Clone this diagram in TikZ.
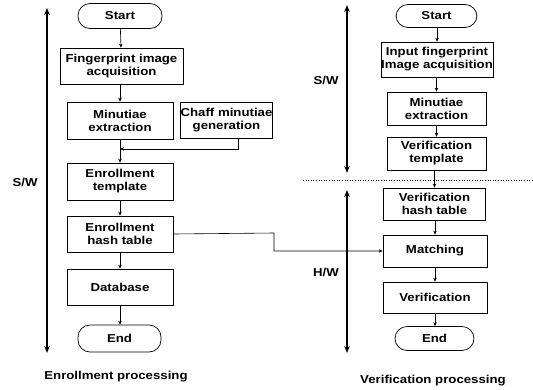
\documentclass[tikz,border=0pt]{standalone}
\usepackage{fontspec}
\setmainfont{Liberation Sans}[FakeStretch=1.15]
\usetikzlibrary{arrows.meta}
\begin{document}
\begin{tikzpicture}[x=1pt,y=-1pt,
  every node/.style={font=\bfseries\fontsize{11.5}{13}\selectfont, inner sep=0pt, align=center},
  proc/.style={draw, line width=0.7pt, minimum width=#1},
  term/.style={draw, line width=0.7pt, rounded corners=12pt},
  flow/.style={line width=0.6pt, -{Stealth[length=4pt,width=3.5pt]}},
  plain/.style={line width=0.6pt},
  bigarr/.style={line width=1.3pt, {Stealth[length=7pt,width=5.5pt]}-{Stealth[length=7pt,width=5.5pt]}},
  lab/.style={font=\bfseries\fontsize{11.5}{13}\selectfont}
]
\useasboundingbox (0,0) rectangle (533,389);
% left column
\node[term, minimum width=84pt, minimum height=25pt] (startL) at (120,16) {Start};
\node[proc=123pt, minimum height=36pt] (fpL) at (121.5,66) {Fingerprint image\\acquisition};
\node[proc=106pt, minimum height=37pt] (minL) at (120,120.5) {Minutiae\\extraction};
\node[proc=83pt, minimum height=36pt] (chaff) at (226.5,120) {Chaff minutiae\\generation};
\node[proc=106pt, minimum height=37pt] (templL) at (120,181.5) {Enrollment\\template};
\node[proc=106pt, minimum height=36pt] (hashL) at (120,234) {Enrollment\\hash table};
\node[proc=106pt, minimum height=36pt] (db) at (120,287) {Database};
\node[term, minimum width=83pt, minimum height=27pt] (endL) at (119.5,338.5) {End};
\coordinate (junc) at (120,149);
\coordinate (bend) at (274,233);

\draw[flow] (startL) -- (fpL);
\draw[flow] (fpL.south -| minL) -- (minL);
\draw[flow] (minL) -- (templL);
\draw[flow] ([xshift=11.5pt]chaff.south) |- (junc);
\draw[flow] (templL) -- (hashL);
\draw[flow] (hashL) -- (db);
\draw[flow] (db) -- (endL.north -| db);

% left side arrow
\coordinate (la1) at (47,8);
\coordinate (la2) at (47,353);
\draw[bigarr] (la1) -- (la2);
\node[lab] (swL) at (25,182) {S/W};
\node[lab] (enr) at (116,377) {Enrollment processing};

% right column
\node[term, minimum width=81pt, minimum height=23pt] (startR) at (436.5,16) {Start};
\node[proc=110pt, minimum height=35pt] (fpR) at (437,59.5) {Input fingerprint\\Image acquisition};
\node[proc=99pt, minimum height=33pt] (minR) at (436.5,108.5) {Minutiae\\extraction};
\node[proc=99pt, minimum height=33pt] (templR) at (436.5,153.5) {Verification\\template};
\node[proc=102pt, minimum height=32pt] (hashR) at (434.5,204) {Verification\\hash table};
\node[proc=104pt, minimum height=32pt] (match) at (435,251) {Matching};
\node[proc=104pt, minimum height=31pt] (verif) at (435,297.5) {Verification};
\node[term, minimum width=79pt, minimum height=24pt] (endR) at (434.5,338.5) {End};

\draw[flow] (startR.south -| fpR) -- (fpR);
\draw[flow] (fpR.south -| minR) -- (minR);
\draw[flow] (minR) -- (templR);
\draw[flow] (templR.south -| hashR) -- (hashR);
\draw[flow] (hashR.south -| match) -- (match);
\draw[flow] (match) -- (verif);
\draw[flow] (verif) -- (endR.north -| verif);

\draw[flow] (hashL.east) -- (bend) |- (match.west);

\coordinate (d1) at (303,180);
\coordinate (d2) at (533,180);
\draw[line width=0.6pt, dotted] (d1) -- (d2);

\coordinate (ra1) at (347,5);
\coordinate (ra2) at (347,173);
\coordinate (ra3) at (347,190);
\coordinate (ra4) at (347,353);
\draw[bigarr] (ra1) -- (ra2);
\draw[bigarr] (ra3) -- (ra4);
\node[lab] (swR) at (326,80) {S/W};
\node[lab] (hwR) at (326,272) {H/W};
\node[lab] (ver) at (433,381) {Verification processing};
\end{tikzpicture}
\end{document}
